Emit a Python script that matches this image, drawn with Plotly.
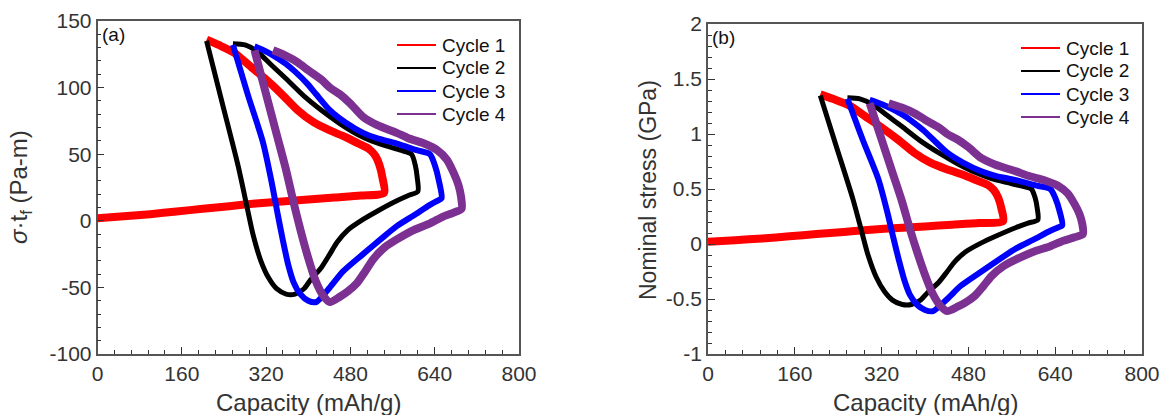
import plotly.graph_objects as go

# Capacity (mAh/g) and sigma*t_f (Pa-m)
cap_c1 = [0, 50, 100, 150, 200, 250, 300, 350, 400, 450, 500, 544,
          541, 535, 527, 515, 495, 470, 440, 410, 380, 350, 320, 290, 260, 230, 207]
st_c1 = [2, 3.5, 5, 7, 9, 11, 13, 14.5, 16, 17.5, 19, 21,
         32, 42, 49, 54, 58, 63, 68, 74, 83, 95, 106, 116, 126, 132, 136]

cap_c2 = [207, 237, 267, 284, 295, 310, 325, 340, 358, 375, 392, 405,
          425, 441, 455, 475, 504, 530, 568, 590, 608,
          607, 603, 596, 575, 550, 520, 493, 460, 425, 391, 357, 330, 303, 280, 257]
st_c2 = [135, 88, 41, 10, -10, -30, -43, -51, -55, -55, -51, -44,
         -35, -25, -16, -7, 1, 7, 15, 19, 22,
         32, 42, 50, 53, 56, 60, 65, 73, 83, 94, 107, 117, 127, 132, 133]

cap_c3 = [257, 285, 314, 330, 342, 352, 362, 372, 385, 400, 415,
          441, 466, 504, 540, 568, 600, 631, 645, 653,
          648, 640, 631, 606, 568, 530, 504, 470, 441, 415, 398, 375, 357, 330, 310, 298]
st_c3 = [132, 95, 59, 30, 5, -15, -33, -46, -55, -60, -61,
         -50, -38, -25, -13, -4, 4, 12, 15, 17,
         30, 42, 50, 53, 58, 62, 66, 74, 83, 95, 103, 112, 118, 125, 129, 131]

cap_c4 = [298, 320, 340, 358, 372, 386, 400, 414, 428, 441,
          460, 475, 492, 508, 523, 545, 568, 600, 631, 655, 675, 691,
          690, 685, 676, 663, 645, 620, 590, 568, 530, 504, 480, 460, 441, 425, 400, 380, 357, 333]
st_c4 = [128, 95, 65, 38, 14, -8, -28, -45, -56, -61,
         -57, -53, -47, -38, -29, -20, -14, -7, -2, 3, 6, 9,
         18, 27, 36, 46, 53, 58, 62, 66, 72, 78, 88, 95, 100, 106, 113, 119, 124, 128]

film_thickness_nm = 100  # nominal stress (GPa) = sigma*t_f (Pa-m) / t_f

cycle_names = ['Cycle 1', 'Cycle 2', 'Cycle 3', 'Cycle 4']
capacities = [cap_c1, cap_c2, cap_c3, cap_c4]
stresses = [st_c1, st_c2, st_c3, st_c4]

ya_ticks = [-100, -50, 0, 50, 100, 150]
ya_text = ['-100', '-50', '0', '50', '100', '150']
yb_ticks = [-1, -0.5, 0, 0.5, 1, 1.5, 2]
yb_text = ['-1', '-0.5', '0', '0.5', '1', '1.5', '2']

colors = ['#ff0000', '#000000', '#0000ff', '#7b3092']
widths = [8, 5, 6, 8]

W, H = 1164, 415
FONT = 'Arial, Liberation Sans, sans-serif'
TXT = '#333333'


def px_x(p):
    return p / W


def px_y(p):
    return 1 - p / H


fig = go.Figure()

for i, name in enumerate(cycle_names):
    line = dict(color=colors[i], width=widths[i], shape='spline', smoothing=0.7)
    # panel (a)
    fig.add_trace(go.Scatter(x=capacities[i], y=stresses[i], mode='lines', name=name,
                             line=line, showlegend=False, xaxis='x', yaxis='y'))
    # panel (b)
    fig.add_trace(go.Scatter(x=capacities[i], y=[v / film_thickness_nm for v in stresses[i]],
                             mode='lines', name=name, line=line, showlegend=False,
                             xaxis='x2', yaxis='y2'))

axis_common = dict(
    showline=True, mirror=True, linecolor='#555555', linewidth=1.5,
    ticks='inside', ticklen=7, tickcolor='#333333', tickwidth=1,
    showgrid=False, zeroline=False, automargin=False,
    tickfont=dict(family=FONT, size=21, color=TXT),
)

x_common = dict(axis_common, range=[0, 800], tickmode='linear', tick0=0, dtick=160,
                minor=dict(dtick=32, ticks='inside', ticklen=4, tickcolor='#333333'))

annotations = [
    dict(text='(a)', x=px_x(100), y=px_y(35), xanchor='left'),
    dict(text='(b)', x=px_x(710), y=px_y(38), xanchor='left'),
    dict(text='Capacity (mAh/g)', x=px_x(308), y=px_y(402), font=dict(size=24, color=TXT)),
    dict(text='Capacity (mAh/g)', x=px_x(925), y=px_y(402), font=dict(size=24, color=TXT)),
    dict(text='<i>σ</i>·t<sub>f</sub> (Pa-m)', x=px_x(21), y=px_y(187), textangle=-90,
         font=dict(size=24, color=TXT)),
    dict(text='Nominal stress (GPa)', x=px_x(648), y=px_y(190), textangle=-90,
         font=dict(size=23, color=TXT)),
]
shapes = []

# legends drawn in each panel: (line start, line end, text x, first row y)
legend_pos = [(397, 436, 440, 45), (1021, 1060, 1064, 48)]
row_step = 23
for x0, x1, tx, y0 in legend_pos:
    for i, name in enumerate(cycle_names):
        yy = px_y(y0 + i * row_step)
        shapes.append(dict(type='line', xref='paper', yref='paper',
                           x0=px_x(x0), x1=px_x(x1), y0=yy, y1=yy,
                           line=dict(color=colors[i], width=2)))
        annotations.append(dict(text=name, x=px_x(tx), y=yy, xanchor='left'))

for a in annotations:
    a.update(xref='paper', yref='paper', showarrow=False, yanchor='middle')
    a.setdefault('xanchor', 'center')
    f = dict(family=FONT, size=19, color='#111111')
    f.update(a.get('font', {}))
    a['font'] = f

fig.update_layout(
    width=W, height=H,
    paper_bgcolor='white', plot_bgcolor='white',
    margin=dict(l=0, r=0, t=0, b=0),
    showlegend=False,
    xaxis=dict(x_common, domain=[px_x(97.5), px_x(519)], anchor='y'),
    yaxis=dict(axis_common, domain=[px_y(354), px_y(21)], anchor='x', range=[-100, 150],
               tickmode='array', tickvals=ya_ticks, ticktext=ya_text,
               minor=dict(dtick=10, ticks='inside', ticklen=4, tickcolor='#333333')),
    xaxis2=dict(x_common, domain=[px_x(708), px_x(1142)], anchor='y2'),
    yaxis2=dict(axis_common, domain=[px_y(354), px_y(24)], anchor='x2', range=[-1, 2],
                tickmode='array', tickvals=yb_ticks, ticktext=yb_text,
                minor=dict(dtick=0.1, ticks='inside', ticklen=4, tickcolor='#333333')),
    annotations=annotations,
    shapes=shapes,
)

# drop the default 8px body margin so the figure fills the window exactly
fig.write_html('out.html', config={'displayModeBar': False},
               post_script="document.body.style.margin='0';")
